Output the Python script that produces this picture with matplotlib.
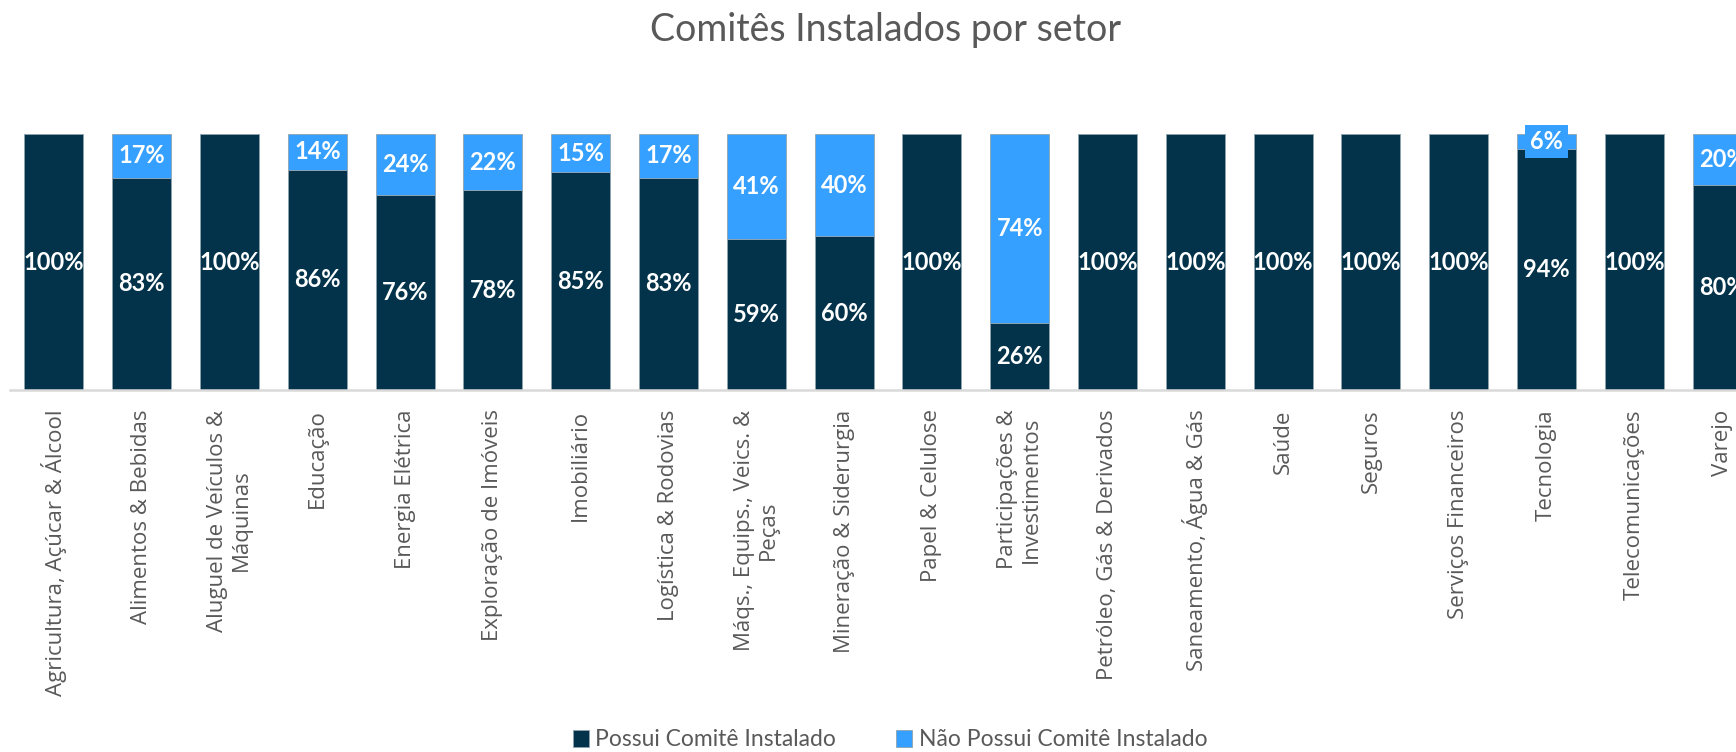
import matplotlib
matplotlib.use('Agg')
import matplotlib.pyplot as plt
import numpy as np

# Share of companies per sector with / without an installed committee (%)
sectors = [
    'Agricultura, Açúcar & Álcool',
    'Alimentos & Bebidas',
    'Aluguel de Veículos &\nMáquinas',
    'Educação',
    'Energia Elétrica',
    'Exploração de Imóveis',
    'Imobiliário',
    'Logística & Rodovias',
    'Máqs., Equips., Veics. &\nPeças',
    'Mineração & Siderurgia',
    'Papel & Celulose',
    'Participações &\nInvestimentos',
    'Petróleo, Gás & Derivados',
    'Saneamento, Água & Gás',
    'Saúde',
    'Seguros',
    'Serviços Financeiros',
    'Tecnologia',
    'Telecomunicações',
    'Varejo',
]
possui = [100, 83, 100, 86, 76, 78, 85, 83, 59, 60, 100, 26, 100, 100, 100, 100, 100, 94, 100, 80]
nao_possui = [0, 17, 0, 14, 24, 22, 15, 17, 41, 40, 0, 74, 0, 0, 0, 0, 0, 6, 0, 20]

dark = '#03334A'
light = '#35A0FF'
grey = '#595959'

fig = plt.figure(figsize=(17.36, 7.52), dpi=100)
# axes runs slightly past the right edge, so the last bar gets cut off
ax = fig.add_axes([10 / 1736, 362 / 752, 1756 / 1736, 256 / 752])

x = np.arange(len(sectors))
width = 0.67
ax.bar(x, possui, width, color=dark, edgecolor='#8FA3AE', linewidth=0.6,
       label='Possui Comitê Instalado', zorder=2)
ax.bar(x, nao_possui, width, bottom=possui, color=light, edgecolor='#8FA3AE',
       linewidth=0.6, label='Não Possui Comitê Instalado', zorder=2)

for i in range(len(sectors)):
    ax.text(x[i], possui[i] / 2, f'{possui[i]}%', ha='center', va='center',
            color='white', fontsize=17, fontweight='bold', family='Lato', zorder=3)
    if nao_possui[i] > 0:
        ax.text(x[i], possui[i] + nao_possui[i] / 2, f'{nao_possui[i]}%',
                ha='center', va='center', color='white', fontsize=17,
                fontweight='bold', family='Lato', zorder=3,
                bbox=dict(boxstyle='square,pad=0.2', fc=light, ec='none'))

ax.set_xlim(-0.5, 19.5)
ax.set_ylim(0, 100)
ax.set_yticks([])
ax.set_xticks(x)
ax.set_xticklabels(sectors, rotation=90, ha='center', va='top', multialignment='center',
                   fontsize=16, color=grey, family='Open Sans')
ax.tick_params(axis='x', length=0, pad=14)
for side in ['top', 'right', 'left']:
    ax.spines[side].set_visible(False)
ax.spines['bottom'].set_color('#D9D9D9')
ax.spines['bottom'].set_linewidth(1.8)

fig.text(886 / 1736, 1 - 30 / 752, 'Comitês Instalados por setor', ha='center', va='center',
         fontsize=27, color=grey, family='Lato')

handles, labels = ax.get_legend_handles_labels()
fig.legend(handles, labels, loc='center', bbox_to_anchor=(890 / 1736, 1 - 740 / 752),
           ncol=2, frameon=False, handlelength=0.7, handleheight=0.7,
           handletextpad=0.3, columnspacing=2.6,
           prop={'family': 'Lato', 'size': 16.5}, labelcolor=grey)

fig.savefig('out.png', dpi=100)
